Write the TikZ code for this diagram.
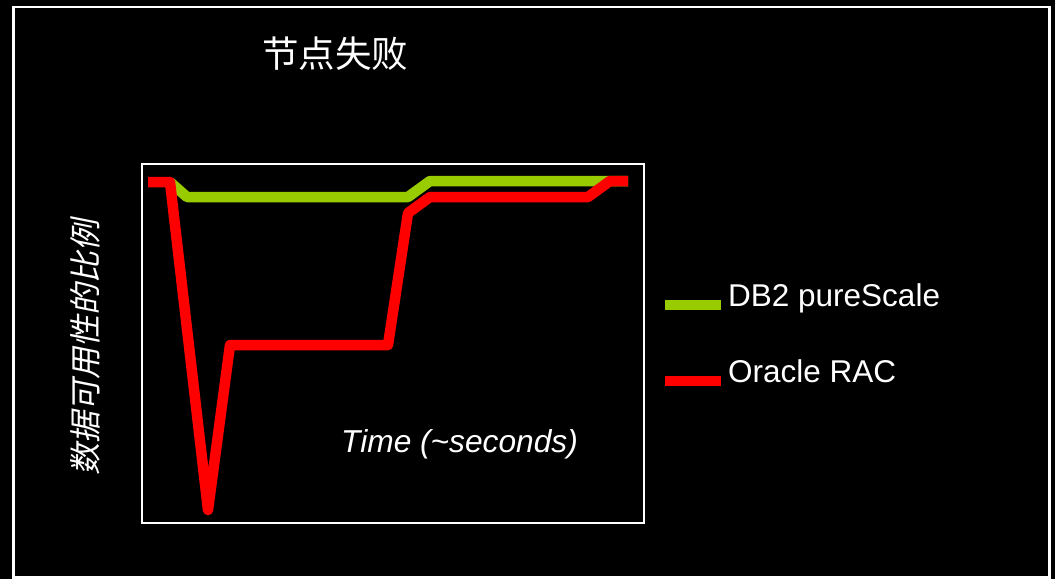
\documentclass[tikz,border=0pt]{standalone}
\usepackage{fontspec}
\setmainfont{Liberation Sans}
\newfontfamily\cjk{Noto Sans CJK SC}
\newfontfamily\cjkit[FakeSlant=0.2]{Noto Sans CJK SC}
\definecolor{dbgreen}{HTML}{99CC00}
\definecolor{racred}{HTML}{FF0000}
\tikzset{
  frameline/.style={draw=white, line width=2.5pt},
  boxline/.style={draw=white, line width=2pt},
  plotline/.style={line width=10.5pt, line join=round},
  legtext/.style={text=white, anchor=base west, inner sep=0pt, font=\fontsize{31.5}{36}\selectfont},
}
\begin{document}
\begin{tikzpicture}[x=1pt,y=-1pt]
\useasboundingbox (0,0) rectangle (1055,579);
\fill[black] (0,0) rectangle (1055,579);
\draw[frameline] (13.5,7) rectangle (1049.5,577.5);
\node[text=white, font=\cjk\fontsize{36.5}{40}\selectfont, inner sep=0pt] (title) at (335,54) {节点失败};
\draw[boxline] (142,164) rectangle (644,523);
% DB2 pureScale
\draw[plotline, dbgreen] (170,182) -- (187,197) -- (408,197) -- (430,181) -- (628,181);
% Oracle RAC
\draw[plotline, racred] (148,182) -- (170,182) -- (208,510) -- (230,345) -- (388,345) -- (408,213) -- (430,197) -- (588,197) -- (610,181) -- (628,181);
\node[text=white, rotate=90, font=\cjkit\fontsize{32}{36}\selectfont, inner sep=0pt] (ylab) at (85,347) {数据可用性的比例};
\node[legtext, font=\itshape\fontsize{31.7}{36}\selectfont] (time) at (341,452) {Time (\textasciitilde seconds)};
\coordinate (g1) at (665,305);
\coordinate (g2) at (721,305);
\draw[plotline, dbgreen] (g1) -- (g2);
\node[legtext] (dbtext) at (728,306) {DB2 pureScale};
\coordinate (r1) at (665,381);
\coordinate (r2) at (721,381);
\draw[plotline, racred] (r1) -- (r2);
\node[legtext] (ractext) at (728,382) {Oracle RAC};
\end{tikzpicture}
\end{document}
